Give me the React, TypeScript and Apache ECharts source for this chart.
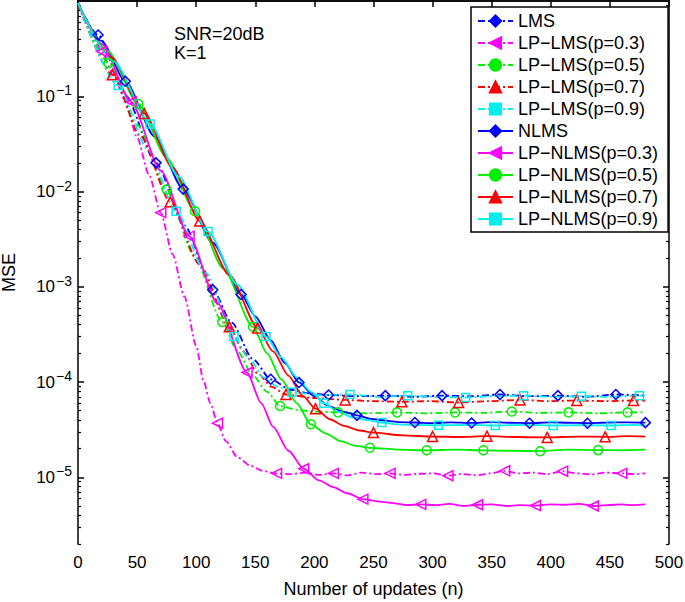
import React, { useEffect, useRef } from 'react';
import * as echarts from 'echarts';

const FONT = '"Liberation Sans", Arial, Helvetica, sans-serif';

// ---------- axis ticks ----------
const X_TICKS = [0, 50, 100, 150, 200, 250, 300, 350, 400, 450, 500];
const Y_DECADES = [-5, -4, -3, -2, -1]; // log10 of MSE at the labelled ticks
const Y_MIN_LOG = -5.7;
const Y_MAX_LOG = 0;

// ---------- data: [n, MSE] ----------
const LMS: number[][] = [[0,0.95],[17,0.44],[40,0.103],[66,0.020],[90,0.0044],[114,9.3e-4],[130,4.2e-4],[148,1.74e-4],[163,1.07e-4],[180,8.3e-5],[196,7.6e-5],[212,7.3e-5],[236,7.1e-5],[260,7.2e-5],[284,7.0e-5],[308,7.2e-5],[332,7.1e-5],[357,7.4e-5],[382,7.1e-5],[406,7.2e-5],[430,7.0e-5],[455,7.4e-5],[480,7.2e-5]];
const LMS_MARKS = [17, 66, 114, 163, 212, 260, 308, 357, 406, 455];

const LPLMS03: number[][] = [[0,0.95],[10,0.52],[20,0.295],[30,0.166],[40,0.091],[50,0.037],[60,0.015],[70,0.006],[80,0.0022],[90,7.9e-4],[100,2.4e-4],[106,1.05e-4],[112,6.0e-5],[118,3.7e-5],[125,2.4e-5],[135,1.62e-5],[146,1.32e-5],[156,1.17e-5],[168,1.1e-5],[180,1.08e-5],[192,1.12e-5],[204,1.06e-5],[216,1.1e-5],[228,1.05e-5],[240,1.12e-5],[252,1.08e-5],[264,1.1e-5],[276,1.06e-5],[288,1.09e-5],[300,1.1e-5],[313,1.04e-5],[325,1.08e-5],[337,1.05e-5],[349,1.1e-5],[361,1.17e-5],[373,1.1e-5],[385,1.12e-5],[397,1.08e-5],[410,1.16e-5],[422,1.1e-5],[434,1.07e-5],[446,1.12e-5],[460,1.1e-5],[470,1.08e-5],[480,1.1e-5]];
const LPLMS03_MARKS = [20, 70, 118, 168, 216, 264, 313, 361, 410, 460];

const LPLMS05: number[][] = [[0,0.95],[26,0.223],[50,0.050],[75,0.0105],[98,0.00216],[122,4.27e-4],[135,2.1e-4],[148,1.17e-4],[160,7.9e-5],[171,5.6e-5],[185,5.1e-5],[200,4.9e-5],[220,4.8e-5],[245,4.7e-5],[270,4.8e-5],[295,4.7e-5],[319,4.8e-5],[343,4.75e-5],[367,4.9e-5],[390,4.75e-5],[415,4.8e-5],[440,4.7e-5],[465,4.8e-5],[480,4.8e-5]];
const LPLMS05_MARKS = [26, 75, 122, 171, 220, 270, 319, 367, 415, 465];

const LPLMS07: number[][] = [[0,0.95],[29,0.168],[53,0.038],[78,0.0078],[103,0.0017],[128,3.8e-4],[140,2.1e-4],[152,1.23e-4],[164,8.9e-5],[176,7.4e-5],[200,6.8e-5],[226,6.5e-5],[250,6.3e-5],[274,6.2e-5],[298,6.3e-5],[322,6.1e-5],[348,6.3e-5],[374,6.5e-5],[398,6.3e-5],[422,6.4e-5],[446,6.3e-5],[470,6.4e-5],[480,6.4e-5]];
const LPLMS07_MARKS = [29, 78, 128, 176, 226, 274, 322, 374, 422, 470];

const LPLMS09: number[][] = [[0,0.95],[34,0.13],[59,0.028],[83,0.0062],[108,0.0014],[132,3.0e-4],[145,1.74e-4],[157,1.12e-4],[169,8.9e-5],[181,7.8e-5],[205,7.3e-5],[230,7.4e-5],[255,7.0e-5],[279,7.2e-5],[303,7.0e-5],[328,6.9e-5],[352,7.1e-5],[377,7.2e-5],[401,7.0e-5],[426,7.1e-5],[450,7.0e-5],[475,7.2e-5],[480,7.2e-5]];
const LPLMS09_MARKS = [34, 83, 132, 181, 230, 279, 328, 377, 426, 475];

const NLMS: number[][] = [[0,0.95],[20,0.38],[40,0.144],[65,0.0376],[89,0.0106],[114,0.0029],[138,8.3e-4],[150,4.9e-4],[163,2.75e-4],[175,1.58e-4],[187,9.9e-5],[200,7.1e-5],[212,5.6e-5],[224,4.9e-5],[236,4.47e-5],[248,4.1e-5],[260,3.94e-5],[272,3.8e-5],[285,3.76e-5],[300,3.7e-5],[315,3.78e-5],[333,3.72e-5],[350,3.8e-5],[365,3.74e-5],[382,3.7e-5],[400,3.78e-5],[415,3.74e-5],[431,3.7e-5],[448,3.76e-5],[465,3.78e-5],[480,3.75e-5]];
const NLMS_MARKS = [40, 89, 138, 187, 236, 285, 333, 382, 431, 480];

const LPNLMS03: number[][] = [[0,0.95],[20,0.355],[45,0.087],[70,0.0166],[94,0.0034],[118,6.7e-4],[143,1.26e-4],[155,6.0e-5],[165,3.4e-5],[178,1.9e-5],[191,1.23e-5],[204,9.3e-6],[216,7.9e-6],[228,6.8e-6],[241,5.9e-6],[253,5.6e-6],[265,5.4e-6],[278,5.1e-6],[290,5.2e-6],[302,5.1e-6],[314,5.25e-6],[326,5.0e-6],[338,5.15e-6],[350,5.2e-6],[362,5.0e-6],[374,5.1e-6],[387,5.05e-6],[400,5.2e-6],[412,5.15e-6],[424,5.25e-6],[436,5.0e-6],[448,5.1e-6],[460,5.2e-6],[470,5.1e-6],[480,5.2e-6]];
const LPNLMS03_MARKS = [45, 94, 143, 191, 241, 290, 338, 387, 436];

const LPNLMS05: number[][] = [[0,0.95],[25,0.30],[51,0.083],[75,0.0226],[99,0.0062],[123,0.00155],[148,3.8e-4],[160,2.0e-4],[172,1.07e-4],[185,6.0e-5],[197,3.6e-5],[210,2.88e-5],[222,2.4e-5],[235,2.14e-5],[247,2.04e-5],[260,2.0e-5],[272,1.95e-5],[295,1.92e-5],[320,1.95e-5],[343,1.92e-5],[367,1.9e-5],[391,1.88e-5],[415,1.95e-5],[440,1.93e-5],[460,1.92e-5],[480,1.95e-5]];
const LPNLMS05_MARKS = [51, 99, 148, 197, 247, 295, 343, 391, 440];

const LPNLMS07: number[][] = [[0,0.95],[28,0.257],[56,0.066],[80,0.0178],[103,0.0049],[128,0.00133],[152,3.7e-4],[165,2.1e-4],[178,1.17e-4],[190,7.2e-5],[201,5.25e-5],[213,4.07e-5],[225,3.47e-5],[238,3.1e-5],[250,2.95e-5],[275,2.75e-5],[300,2.68e-5],[323,2.65e-5],[346,2.7e-5],[372,2.65e-5],[397,2.62e-5],[422,2.68e-5],[446,2.66e-5],[465,2.7e-5],[480,2.68e-5]];
const LPNLMS07_MARKS = [56, 103, 152, 201, 250, 300, 346, 397, 446];

const LPNLMS09: number[][] = [[0,0.95],[30,0.234],[61,0.0513],[85,0.0144],[110,0.0038],[135,0.00105],[159,3.0e-4],[172,1.82e-4],[185,1.12e-4],[197,7.9e-5],[208,6.0e-5],[220,4.9e-5],[232,4.27e-5],[245,3.98e-5],[257,3.76e-5],[270,3.6e-5],[282,3.55e-5],[305,3.52e-5],[330,3.55e-5],[353,3.5e-5],[378,3.55e-5],[402,3.5e-5],[426,3.53e-5],[451,3.5e-5],[470,3.55e-5],[480,3.52e-5]];
const LPNLMS09_MARKS = [61, 110, 159, 208, 257, 305, 353, 402, 451];

const M = '\u2212';
const SERIES = [
  { name: 'LMS', data: LMS, marks: LMS_MARKS, color: '#0000ff', symbol: 'diamond', rot: 0, dash: true, size: 10 },
  { name: `LP${M}LMS(p=0.3)`, data: LPLMS03, marks: LPLMS03_MARKS, color: '#ff00ff', symbol: 'triangle', rot: 90, dash: true, size: 10 },
  { name: `LP${M}LMS(p=0.5)`, data: LPLMS05, marks: LPLMS05_MARKS, color: '#00ee00', symbol: 'circle', rot: 0, dash: true, size: 9 },
  { name: `LP${M}LMS(p=0.7)`, data: LPLMS07, marks: LPLMS07_MARKS, color: '#ff0000', symbol: 'triangle', rot: 0, dash: true, size: 10 },
  { name: `LP${M}LMS(p=0.9)`, data: LPLMS09, marks: LPLMS09_MARKS, color: '#00eeee', symbol: 'rect', rot: 0, dash: true, size: 8 },
  { name: 'NLMS', data: NLMS, marks: NLMS_MARKS, color: '#0000ff', symbol: 'diamond', rot: 0, dash: false, size: 10 },
  { name: `LP${M}NLMS(p=0.3)`, data: LPNLMS03, marks: LPNLMS03_MARKS, color: '#ff00ff', symbol: 'triangle', rot: 90, dash: false, size: 10 },
  { name: `LP${M}NLMS(p=0.5)`, data: LPNLMS05, marks: LPNLMS05_MARKS, color: '#00ee00', symbol: 'circle', rot: 0, dash: false, size: 9 },
  { name: `LP${M}NLMS(p=0.7)`, data: LPNLMS07, marks: LPNLMS07_MARKS, color: '#ff0000', symbol: 'triangle', rot: 0, dash: false, size: 10 },
  { name: `LP${M}NLMS(p=0.9)`, data: LPNLMS09, marks: LPNLMS09_MARKS, color: '#00eeee', symbol: 'rect', rot: 0, dash: false, size: 8 },
];

function minorLogTicks(): number[] {
  const out: number[] = [];
  for (let d = -6; d <= -1; d++) {
    for (let k = 2; k <= 9; k++) {
      const v = Math.log10(k * Math.pow(10, d));
      if (v >= Y_MIN_LOG && v <= Y_MAX_LOG) out.push(v);
    }
  }
  return out;
}

export default function App() {
  const ref = useRef<HTMLDivElement>(null);
  useEffect(() => {
    if (!ref.current) return;
    const chart = echarts.init(ref.current, undefined, { renderer: 'svg' });
    const minor = minorLogTicks();
    const axisLine = { show: true, lineStyle: { color: '#000', width: 1.5 } };
    const labelFmt = (v: number) => {
      const e = Math.round(v);
      return `{b|10}{s|${e < 0 ? M : ''}${Math.abs(e)}}`;
    };
    const yBase = {
      type: 'value', min: Y_MIN_LOG, max: Y_MAX_LOG, splitLine: { show: false },
    };
    const series = SERIES.map((s) => ({
      name: s.name,
      type: 'line',
      xAxisIndex: 0,
      yAxisIndex: 0,
      symbol: s.symbol,
      symbolSize: s.size,
      symbolRotate: s.rot,
      showSymbol: true,
      smooth: 0.25,
      smoothMonotone: 'x',
      lineStyle: { color: s.color, width: 1.8, type: s.dash ? [7, 3, 2, 3] : 'solid' },
      itemStyle: { color: 'rgba(255,255,255,0)', borderColor: s.color, borderWidth: 1.5 },
      emphasis: { disabled: true },
      data: s.data.map(([n, v]) => {
        const item: any = { value: [n, Math.log10(v)] };
        if (!s.marks.includes(n)) item.symbol = 'none';
        return item;
      }),
    }));
    chart.setOption({
      animation: false,
      backgroundColor: '#fff',
      textStyle: { fontFamily: FONT },
      grid: { left: 78, right: 16, top: 1, bottom: 58, containLabel: false, outerBoundsMode: 'none' },
      xAxis: [
        {
          type: 'value', min: 0, max: 500, interval: 50, position: 'bottom',
          name: 'Number of updates (n)', nameLocation: 'middle', nameGap: 36,
          nameTextStyle: { fontSize: 18, color: '#000', fontFamily: FONT },
          axisLine, splitLine: { show: false },
          axisTick: { inside: true, length: 6, lineStyle: { color: '#000', width: 1.5 } },
          axisLabel: { fontSize: 17, color: '#000', margin: 10, fontFamily: FONT },
        },
        {
          type: 'value', min: 0, max: 500, interval: 50, position: 'top',
          axisLine, splitLine: { show: false },
          axisTick: { inside: true, length: 6, lineStyle: { color: '#000', width: 1.5 } },
          axisLabel: { show: false },
        },
      ],
      yAxis: [
        {
          ...yBase, position: 'left',
          name: 'MSE', nameLocation: 'middle', nameGap: 60, nameRotate: 90,
          nameTextStyle: { fontSize: 18, color: '#000', fontFamily: FONT },
          axisLine,
          axisTick: { inside: true, length: 6, customValues: Y_DECADES, lineStyle: { color: '#000', width: 1.5 } },
          axisLabel: {
            customValues: Y_DECADES, margin: 6, formatter: labelFmt, color: '#000',
            rich: {
              b: { fontSize: 17, fontFamily: FONT, color: '#000' },
              s: { fontSize: 14, fontFamily: FONT, color: '#000', padding: [0, 0, 12, 1] },
            },
          },
        },
        {
          ...yBase, position: 'left', axisLine: { show: false },
          axisTick: { inside: true, length: 3, customValues: minor, lineStyle: { color: '#000', width: 1.2 } },
          axisLabel: { show: false },
        },
        {
          ...yBase, position: 'right', axisLine,
          axisTick: { inside: true, length: 6, customValues: Y_DECADES, lineStyle: { color: '#000', width: 1.5 } },
          axisLabel: { show: false },
        },
        {
          ...yBase, position: 'right', axisLine: { show: false },
          axisTick: { inside: true, length: 3, customValues: minor, lineStyle: { color: '#000', width: 1.2 } },
          axisLabel: { show: false },
        },
      ],
      legend: {
        orient: 'vertical', left: 471, top: 7,
        padding: [5, 10, 4, 6],
        itemWidth: 35, itemHeight: 14, itemGap: 4,
        backgroundColor: '#fff', borderColor: '#000', borderWidth: 1.5,
        selectedMode: false,
        textStyle: { fontSize: 18, lineHeight: 18, color: '#000', fontFamily: FONT },
        data: SERIES.map((s) => ({ name: s.name, itemStyle: { color: s.color, borderColor: s.color } })),
      },
      graphic: [
        { type: 'text', left: 174, top: 25, style: { text: 'SNR=20dB', font: `18px ${FONT}`, fill: '#000' } },
        { type: 'text', left: 174, top: 44, style: { text: 'K=1', font: `18px ${FONT}`, fill: '#000' } },
      ],
      series,
    });
    return () => chart.dispose();
  }, []);
  return <div ref={ref} style={{ width: 685, height: 602, position: 'absolute', left: 0, top: 0 }} />;
}
